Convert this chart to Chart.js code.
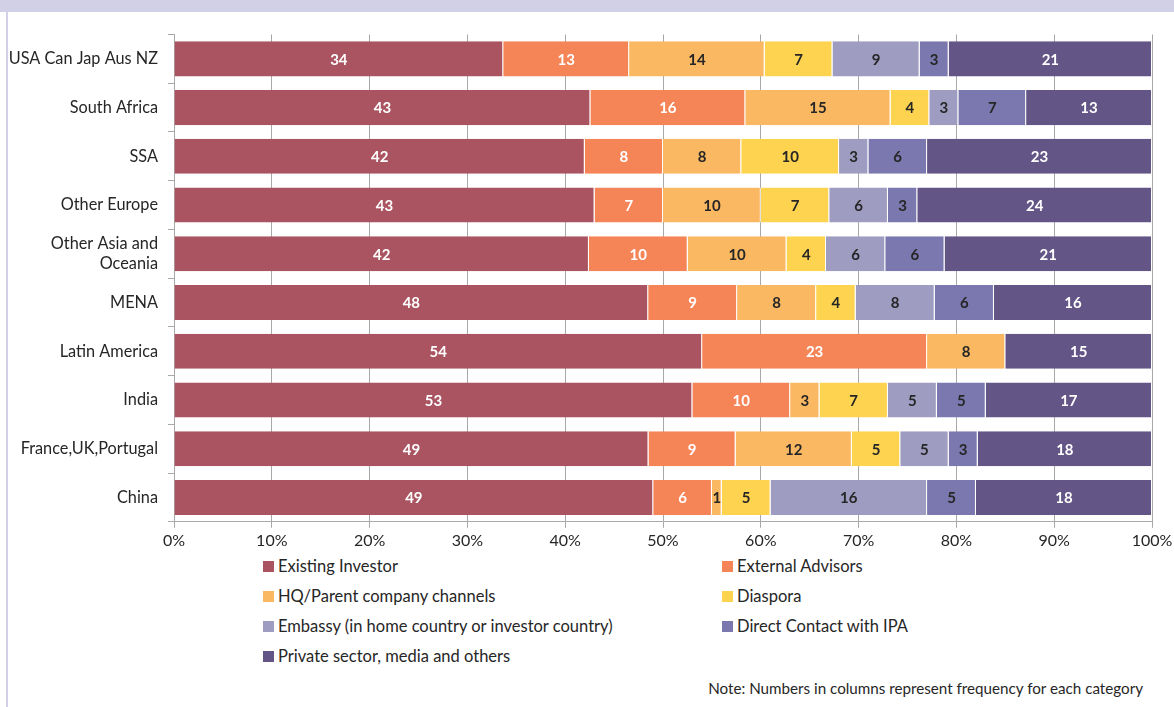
<!DOCTYPE html>
<html><head><meta charset="utf-8">
<script src="https://cdn.jsdelivr.net/npm/chart.js@4/dist/chart.umd.min.js"></script>
<style>
body{margin:0;width:1174px;height:707px;position:relative;background:#fff;font-family:Lato,"Open Sans",sans-serif;overflow:hidden;color:#262626}
#band{position:absolute;left:0;top:0;width:1174px;height:12px;background:#d2d0e7}
#lborder{position:absolute;left:6px;top:12px;width:2px;height:695px;background:#d2d0e7}
#wrap{position:absolute;left:0;top:12px;width:1174px;height:541px}
.li{position:absolute;font-size:16.5px;line-height:18px;white-space:nowrap}
.li span{display:inline-block;width:11px;height:11px;margin-right:4px;vertical-align:0px}
#note{position:absolute;right:31px;top:679px;font-size:15.2px;white-space:nowrap}
</style></head>
<body>
<div id="band"></div><div id="lborder"></div>
<div id="wrap"><canvas id="c"></canvas></div>
<div id="legend"></div>
<div id="note">Note: Numbers in columns represent frequency for each category</div>
<script>
const categories = ['USA Can Jap Aus NZ','South Africa','SSA','Other Europe',['Other Asia and','Oceania'],'MENA','Latin America','India','France,UK,Portugal','China'];
const seriesNames = ['Existing Investor','External Advisors','HQ/Parent company channels','Diaspora','Embassy (in home country or investor country)','Direct Contact with IPA','Private sector, media and others'];
const existingInvestor = [34,43,42,43,42,48,54,53,49,49];
const externalAdvisors = [13,16,8,7,10,9,23,10,9,6];
const hqParent        = [14,15,8,10,10,8,8,3,12,1];
const diaspora        = [7,4,10,7,4,4,0,7,5,5];
const embassy         = [9,3,3,6,6,8,0,5,5,16];
const directContact   = [3,7,6,3,6,6,0,5,3,5];
const privateSector   = [21,13,23,24,21,16,15,17,18,18];
const xTicks = [0,10,20,30,40,50,60,70,80,90,100];

const series = [existingInvestor,externalAdvisors,hqParent,diaspora,embassy,directContact,privateSector];
const colors = ['#aa5461','#f58457','#fbb862','#fdd34f','#9f9cc1','#7a78ae','#635586'];
const labelColors = ['#fff','#fff','#262626','#262626','#262626','#262626','#fff'];
const totals = categories.map((_,i)=>series.reduce((s,a)=>s+a[i],0));

const datasets = series.map((arr,k)=>({
  label: seriesNames[k],
  data: arr.map((v,i)=>v/totals[i]*100),
  raw: arr,
  backgroundColor: colors[k],
  borderColor:'#ffffff',
  borderWidth:{left:0,right:1,top:0,bottom:0},
  borderSkipped:false,
  barPercentage:0.72,
  categoryPercentage:1
}));

const valueLabels = {
  id:'valueLabels',
  afterDatasetsDraw(chart){
    const ctx = chart.ctx;
    ctx.save();
    ctx.font = 'bold 15px Lato, "Open Sans", sans-serif';
    ctx.textAlign='center'; ctx.textBaseline='middle';
    chart.data.datasets.forEach((ds,k)=>{
      const meta = chart.getDatasetMeta(k);
      meta.data.forEach((el,i)=>{
        const v = ds.raw[i];
        if(!v) return;
        ctx.fillStyle = labelColors[k];
        ctx.fillText(String(v),(el.x+el.base)/2,el.y+1);
      });
    });
    ctx.restore();
  }
};

Chart.defaults.font.family = 'Lato, "Open Sans", sans-serif';
Chart.defaults.color = '#262626';
new Chart(document.getElementById('c'),{
  type:'bar',
  data:{labels:categories,datasets},
  options:{
    indexAxis:'y',
    responsive:true,maintainAspectRatio:false,animation:false,
    layout:{padding:{top:22.5,right:22,left:0,bottom:0}},
    plugins:{legend:{display:false},tooltip:{enabled:false}},
    scales:{
      x:{stacked:true,min:0,max:100,
        afterBuildTicks(s){s.ticks = xTicks.map(v=>({value:v}));},
        afterFit(s){s.paddingRight=0;s.paddingLeft=0;},
        ticks:{callback:v=>v+'%',font:{size:16},padding:3,maxRotation:0,autoSkip:false},
        grid:{color:'#a8a8a8',tickLength:6,lineWidth:1},
        border:{color:'#a8a8a8'}},
      y:{stacked:true,
        afterFit(s){s.width=174;},
        ticks:{font:{size:16.3},padding:10,autoSkip:false},
        grid:{offset:true,drawOnChartArea:false,tickLength:6,color:'#a8a8a8'},
        border:{color:'#a8a8a8'}}
    }
  },
  plugins:[valueLabels]
});

// legend built from the series arrays
const leg = document.getElementById('legend');
const pos = [[263,557],[722,557],[263,587],[722,587],[263,617],[722,617],[263,647]];
seriesNames.forEach((n,k)=>{
  const d=document.createElement('div');d.className='li';
  d.style.left=pos[k][0]+'px';d.style.top=pos[k][1]+'px';
  d.innerHTML='<span style="background:'+colors[k]+'"></span>'+n;
  leg.appendChild(d);
});
</script>
</body></html>
